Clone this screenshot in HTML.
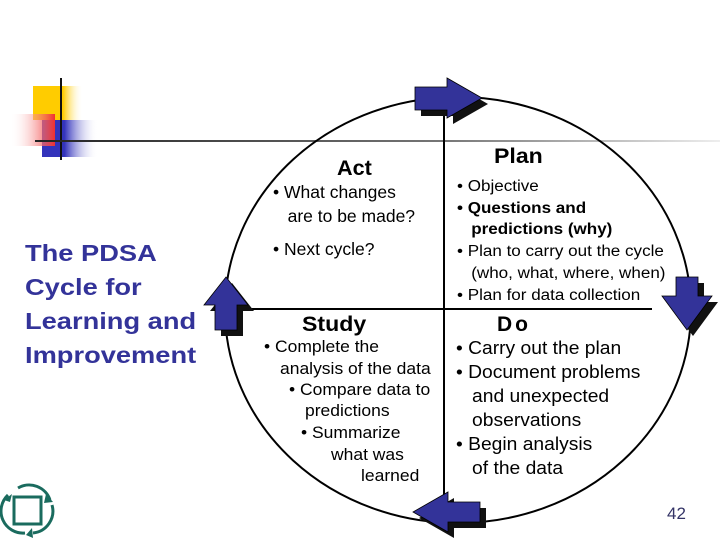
<!DOCTYPE html>
<html><head><meta charset="utf-8"><style>
body{margin:0;width:720px;height:540px;background:#fff;position:relative;overflow:hidden;font-family:"Liberation Sans",Arial,sans-serif}
.t{position:absolute;white-space:nowrap;color:#000;line-height:1}
.s{position:absolute;white-space:nowrap;font-size:16.5px;line-height:1;transform:scaleX(1.06);transform-origin:left}
</style></head><body>
<svg width="720" height="540" style="position:absolute;left:0;top:0">
<defs>
<linearGradient id="hl" x1="0" x2="1"><stop offset="0" stop-color="#222"/><stop offset="0.6" stop-color="#777"/><stop offset="1" stop-color="#eee"/></linearGradient>
<linearGradient id="rd" x1="1" x2="0"><stop offset="0" stop-color="#f03030"/><stop offset="1" stop-color="#fff" stop-opacity="0"/></linearGradient>
<linearGradient id="bl" x1="0" x2="1"><stop offset="0.4" stop-color="#3333bb"/><stop offset="1" stop-color="#fff" stop-opacity="0"/></linearGradient>
<linearGradient id="yl" x1="0" x2="1"><stop offset="0.6" stop-color="#ffcc00"/><stop offset="1" stop-color="#fff" stop-opacity="0"/></linearGradient>
</defs>
<rect x="33" y="86" width="50" height="34" fill="url(#yl)"/>
<rect x="42" y="120" width="56" height="37" fill="url(#bl)"/>
<rect x="10" y="114" width="45" height="32" fill="url(#rd)"/>
<line x1="61" y1="78" x2="61" y2="160" stroke="#111" stroke-width="2"/>
<rect x="35" y="140" width="685" height="2" fill="url(#hl)"/>
<ellipse cx="458" cy="310" rx="233" ry="213" fill="none" stroke="#000" stroke-width="2"/>
<line x1="444" y1="88" x2="444" y2="518" stroke="#000" stroke-width="2"/>
<line x1="245" y1="309" x2="652" y2="309" stroke="#000" stroke-width="2"/>
<g transform="translate(6,6)"><polygon points="415,87 447,87 447,78 482,98 447,118 447,110 415,110" fill="#111"/></g>
<polygon points="415,87 447,87 447,78 482,98 447,118 447,110 415,110" fill="#333399" stroke="#000" stroke-width="0.8"/>
<g transform="translate(6,6)"><polygon points="676,277 698,277 698,296 712,296 687,330 662,296 676,296" fill="#111"/></g>
<polygon points="676,277 698,277 698,296 712,296 687,330 662,296 676,296" fill="#333399" stroke="#000" stroke-width="0.8"/>
<g transform="translate(6,6)"><polygon points="480,502 448,502 448,492 413,512 448,532 448,522 480,522" fill="#111"/></g>
<polygon points="480,502 448,502 448,492 413,512 448,532 448,522 480,522" fill="#333399" stroke="#000" stroke-width="0.8"/>
<g transform="translate(6,6)"><polygon points="215,330 237,330 237,305 248,305 226,277 204,305 215,305" fill="#111"/></g>
<polygon points="215,330 237,330 237,305 248,305 226,277 204,305 215,305" fill="#333399" stroke="#000" stroke-width="0.8"/>
<rect x="14" y="497" width="27" height="27" fill="none" stroke="#1a6b5e" stroke-width="3"/>
<path d="M8,495 A22,22 0 0,0 25,533" fill="none" stroke="#1a6b5e" stroke-width="3"/>
<path d="M18,488 A22,22 0 0,1 50,500" fill="none" stroke="#1a6b5e" stroke-width="3"/>
<path d="M52,505 A22,22 0 0,1 33,533" fill="none" stroke="#1a6b5e" stroke-width="3"/>
<polygon points="46,494 53,502 44,503" fill="#1a6b5e"/>
<polygon points="32,528 26,535 33,538" fill="#1a6b5e"/>
<polygon points="4,500 12,494 10,502" fill="#1a6b5e"/>
</svg>
<div class="t" style="left:25px;top:236px;color:#333399;font-weight:bold;font-size:23.5px;line-height:34px;transform:scaleX(1.16);transform-origin:left">The PDSA<br>Cycle for<br>Learning and<br>Improvement</div>
<div class="t" style="left:337px;top:158px;font-weight:bold;font-size:21px;transform:scaleX(1.03);transform-origin:left">Act</div>
<div class="t" style="left:273px;top:180px;font-size:17.5px;line-height:24px">• What changes<br>&nbsp;&nbsp;&nbsp;are to be made?</div>
<div class="t" style="left:273px;top:241px;font-size:17.5px">• Next cycle?</div>
<div class="t" style="left:494px;top:146px;font-weight:bold;font-size:21px;transform:scaleX(1.1);transform-origin:left">Plan</div>
<div class="t" style="left:457px;top:176px;font-size:15.5px;line-height:21.7px;transform:scaleX(1.1);transform-origin:left">• Objective<br><b>• Questions and<br>&nbsp;&nbsp;&nbsp;predictions (why)</b><br>• Plan to carry out the cycle<br>&nbsp;&nbsp;&nbsp;(who, what, where, when)<br>• Plan for data collection</div>
<div class="t" style="left:302px;top:314px;font-weight:bold;font-size:21px;transform:scaleX(1.1);transform-origin:left">Study</div>
<div class="s" style="left:264px;top:339px">• Complete the</div>
<div class="s" style="left:280px;top:361px">analysis of the data</div>
<div class="s" style="left:289px;top:382px">• Compare data to</div>
<div class="s" style="left:305px;top:403px">predictions</div>
<div class="s" style="left:301px;top:425px">• Summarize</div>
<div class="s" style="left:331px;top:447px">what was</div>
<div class="s" style="left:361px;top:468px">learned</div>
<div class="t" style="left:497px;top:314px;font-weight:bold;font-size:21px;letter-spacing:3px">Do</div>
<div class="t" style="left:456px;top:336px;font-size:18px;line-height:24px;transform:scaleX(1.07);transform-origin:left">• Carry out the plan<br>• Document problems<br>&nbsp;&nbsp;&nbsp;and unexpected<br>&nbsp;&nbsp;&nbsp;observations<br>• Begin analysis<br>&nbsp;&nbsp;&nbsp;of the data</div>
<div class="t" style="left:667px;top:505px;font-size:17px;color:#333366">42</div>
</body></html>
